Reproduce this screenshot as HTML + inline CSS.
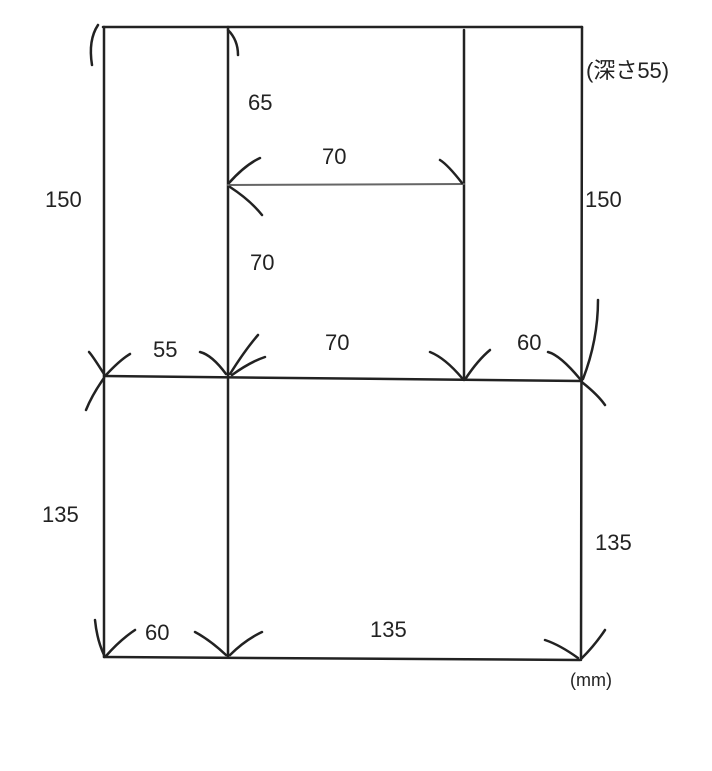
<!DOCTYPE html>
<html><head><meta charset="utf-8"><style>
html,body{margin:0;padding:0;background:#fff;}
svg{display:block}
text{font-family:"Liberation Sans","Noto Sans CJK JP",sans-serif;font-size:22px;fill:#222}
</style></head><body>
<svg width="712" height="771" viewBox="0 0 712 771">
<g stroke="#222" stroke-width="2.5" fill="none" stroke-linecap="round">
<line x1="103" y1="27" x2="582" y2="27"/>
<line x1="104" y1="27" x2="104" y2="657"/>
<line x1="228" y1="27" x2="228" y2="657"/>
<line x1="464" y1="30" x2="464" y2="380"/>
<line x1="582" y1="27" x2="581" y2="660"/>
<line x1="104" y1="376" x2="582" y2="381"/>
<line x1="104" y1="657" x2="580" y2="660"/>
<line x1="228" y1="185" x2="464" y2="184" stroke="#666" stroke-width="2"/>
<path d="M98 25 Q88 40 92 65"/>
<path d="M104 374 Q92 355 89 352"/>
<path d="M104 378 Q92 395 86 410"/>
<path d="M106 375 Q120 360 130 354"/>
<path d="M226 374 Q212 355 200 352"/>
<path d="M230 374 Q245 350 258 335"/>
<path d="M232 375 Q250 362 265 357"/>
<path d="M228 30 Q238 40 238 55"/>
<path d="M229 183 Q245 165 260 158"/>
<path d="M230 187 Q250 200 262 215"/>
<path d="M462 183 Q448 165 440 160"/>
<path d="M462 378 Q445 358 430 352"/>
<path d="M466 378 Q478 360 490 350"/>
<path d="M580 379 Q560 355 548 352"/>
<path d="M583 379 Q598 340 598 300"/>
<path d="M583 383 Q598 395 605 405"/>
<path d="M104 655 Q97 640 95 620"/>
<path d="M106 656 Q120 640 135 630"/>
<path d="M226 655 Q210 640 195 632"/>
<path d="M230 655 Q245 640 262 632"/>
<path d="M578 658 Q560 645 545 640"/>
<path d="M582 658 Q595 645 605 630"/>
</g>
<text x="248" y="110">65</text>
<text x="322" y="164">70</text>
<text x="45" y="207">150</text>
<text x="585" y="207">150</text>
<text x="250" y="270">70</text>
<text x="153" y="357">55</text>
<text x="325" y="350">70</text>
<text x="517" y="350">60</text>
<text x="42" y="522">135</text>
<text x="595" y="550">135</text>
<text x="145" y="640">60</text>
<text x="370" y="637">135</text>
<text x="586" y="78">(深さ55)</text>
<text x="570" y="686" style="font-size:18px">(mm)</text>
</svg>
</body></html>
